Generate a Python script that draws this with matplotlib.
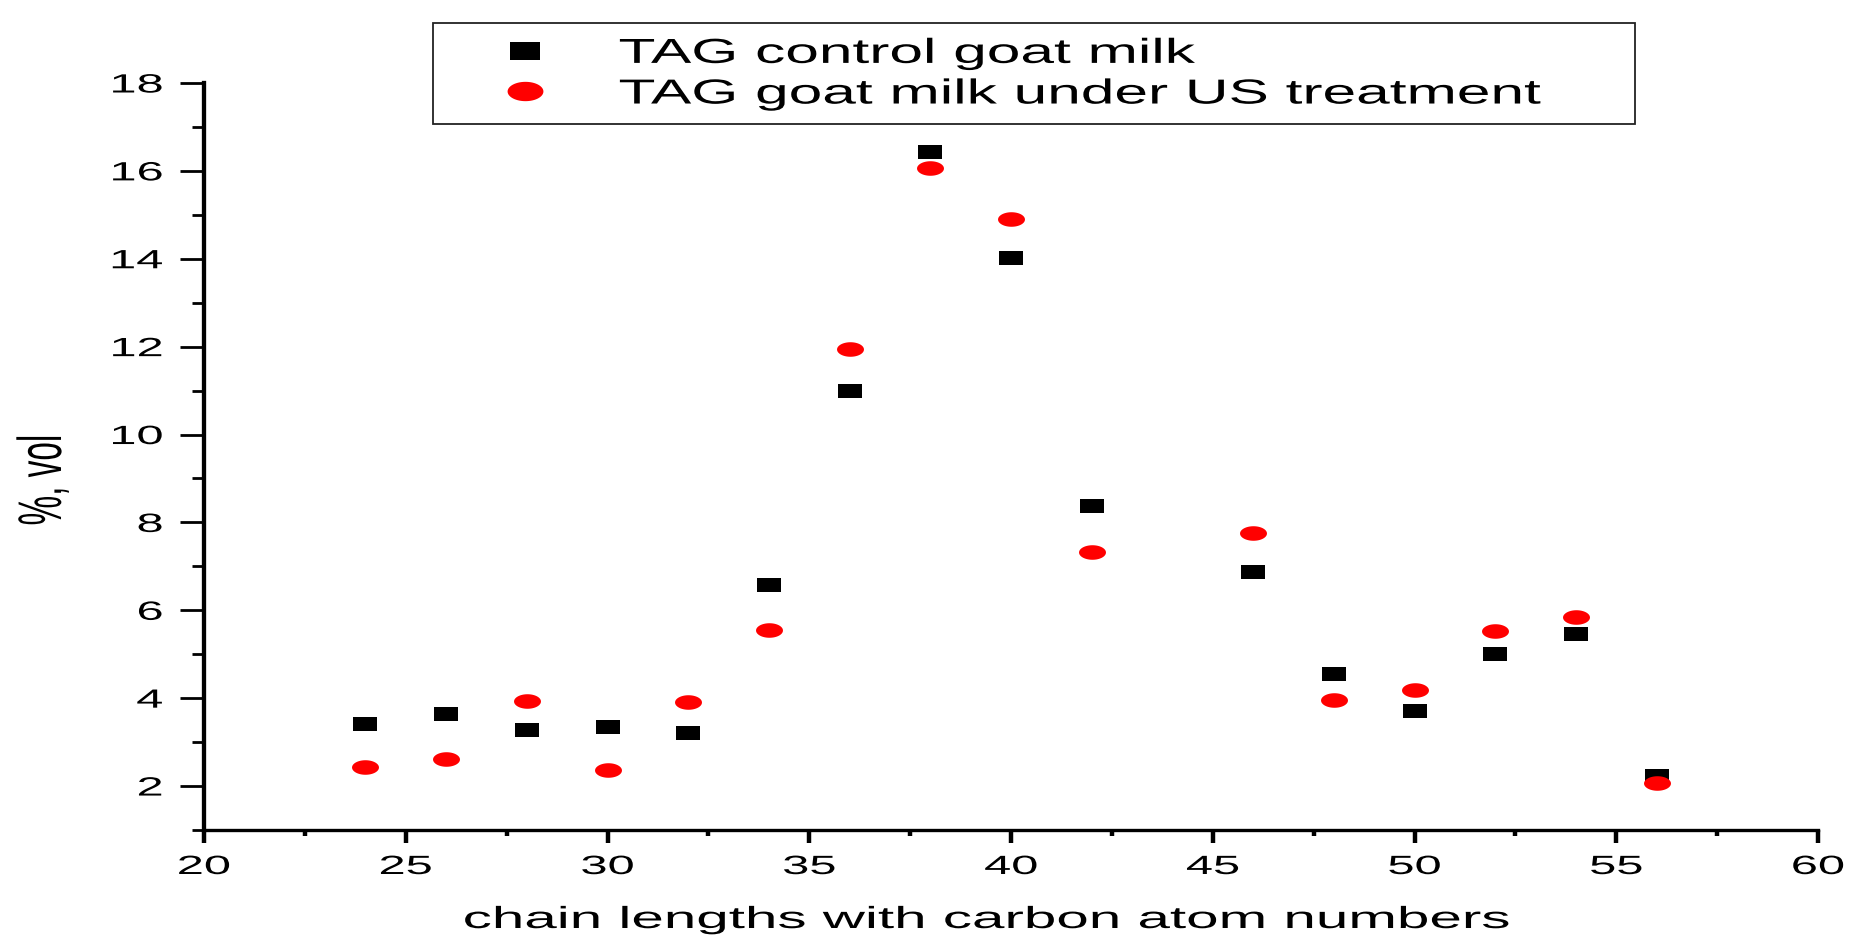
import numpy as np
import matplotlib
matplotlib.use("Agg")
import matplotlib.pyplot as plt
import matplotlib.patheffects as pe
from matplotlib.path import Path
from matplotlib.transforms import Affine2D
from matplotlib.ticker import MultipleLocator

# chain length (carbon atoms) and % vol for both samples
carbons = [24, 26, 28, 30, 32, 34, 36, 38, 40, 42, 46, 48, 50, 52, 54, 56]
control = [3.41, 3.64, 3.28, 3.34, 3.20, 6.57, 11.0, 16.42, 14.02, 8.37,
           6.87, 4.56, 3.70, 5.01, 5.47, 2.22]
treated = [2.44, 2.62, 3.93, 2.36, 3.91, 5.55, 11.95, 16.07, 14.90, 7.33,
           7.76, 3.96, 4.18, 5.52, 5.85, 2.08]
xticks = [20, 25, 30, 35, 40, 45, 50, 55, 60]
yticks = [2, 4, 6, 8, 10, 12, 14, 16, 18]
labels = ["TAG control goat milk", "TAG goat milk under US treatment"]

plt.rcParams['font.family'] = ['Liberation Sans', 'DejaVu Sans']


class Stretch(pe.AbstractPathEffect):
    """Draw text wider than normal (the original picture is stretched)."""

    def __init__(self, sx=1.0, sy=1.0, anchor='center'):
        super().__init__()
        self.sx, self.sy, self.anchor = sx, sy, anchor

    def draw_path(self, renderer, gc, tpath, affine, rgbFace=None):
        v = tpath.vertices
        if tpath.codes is not None:
            v = v[tpath.codes != Path.CLOSEPOLY]
        if len(v):
            x0, x1 = v[:, 0].min(), v[:, 0].max()
            cx = {'left': x0, 'center': (x0 + x1) / 2, 'right': x1}[self.anchor]
            cy = (v[:, 1].min() + v[:, 1].max()) / 2
            pre = (Affine2D().translate(-cx, -cy)
                   .scale(self.sx, self.sy).translate(cx, cy))
            affine = pre + affine
        renderer.draw_path(gc, tpath, affine, rgbFace)


# wide markers: flat rectangle and flat ellipse
rect = [(-1, -0.565), (1, -0.565), (1, 0.565), (-1, 0.565), (-1, -0.565)]
t = np.linspace(0, 2 * np.pi, 60)
ellipse = list(zip(np.cos(t), 0.54 * np.sin(t)))

fig = plt.figure(figsize=(18.51, 9.35), dpi=100)
ax = fig.add_axes([204 / 1851, 105 / 935, 1614 / 1851, 747 / 935])

ax.plot(carbons, control, linestyle='none', marker=rect, markersize=16.6,
        color='black', markeredgewidth=0, label=labels[0])
ax.plot(carbons, treated, linestyle='none', marker=ellipse, markersize=19.4,
        color='#ff0000', markeredgewidth=0, label=labels[1])

ax.set_xlim(20, 60)
ax.set_ylim(1, 18)
ax.set_xticks(xticks)
ax.set_yticks(yticks)
ax.xaxis.set_minor_locator(MultipleLocator(2.5))
ax.yaxis.set_minor_locator(MultipleLocator(1))

for s in ['top', 'right']:
    ax.spines[s].set_visible(False)
ax.spines['left'].set_linewidth(3.1)
ax.spines['bottom'].set_linewidth(2.4)

ax.tick_params(axis='x', which='major', length=9.4, width=3.2, pad=8.6,
               labelsize=19, direction='out')
ax.tick_params(axis='x', which='minor', length=4.3, width=3.2, direction='out')
ax.tick_params(axis='y', which='major', length=17.3, width=2.0, pad=12.5,
               labelsize=19, direction='out')
ax.tick_params(axis='y', which='minor', length=8.6, width=2.0, direction='out')

for lbl in ax.get_xticklabels():
    lbl.set_path_effects([Stretch(1.85, 1, 'center')])
for lbl in ax.get_yticklabels():
    lbl.set_path_effects([Stretch(1.85, 1, 'right')])

ax.set_xlabel("chain lengths with carbon atom numbers", fontsize=22,
              va='baseline')
ax.xaxis.set_label_coords(0.4845, -0.1312)
ax.xaxis.label.set_path_effects([Stretch(1.91, 1, 'center')])

ax.set_ylabel("%, vol", fontsize=24, va='center')
ax.yaxis.set_label_coords(-0.0991, 0.4685)
ax.yaxis.label.set_path_effects([Stretch(1, 1.85, 'center')])

leg = ax.legend(loc='upper left', mode='expand', borderaxespad=0,
                bbox_to_anchor=(433 / 1851, 1 - 122 / 935, 1202 / 1851, 99 / 935),
                bbox_transform=fig.transFigure, fontsize=25, markerscale=1.33,
                fancybox=False, framealpha=1, edgecolor='#222222',
                borderpad=0.4, labelspacing=0.22, handlelength=4.5,
                handletextpad=0.46)
leg.get_frame().set_linewidth(1.3)
for txt in leg.get_texts():
    txt.set_path_effects([Stretch(1.74, 1, 'left')])

fig.savefig("out.png", dpi=100)
